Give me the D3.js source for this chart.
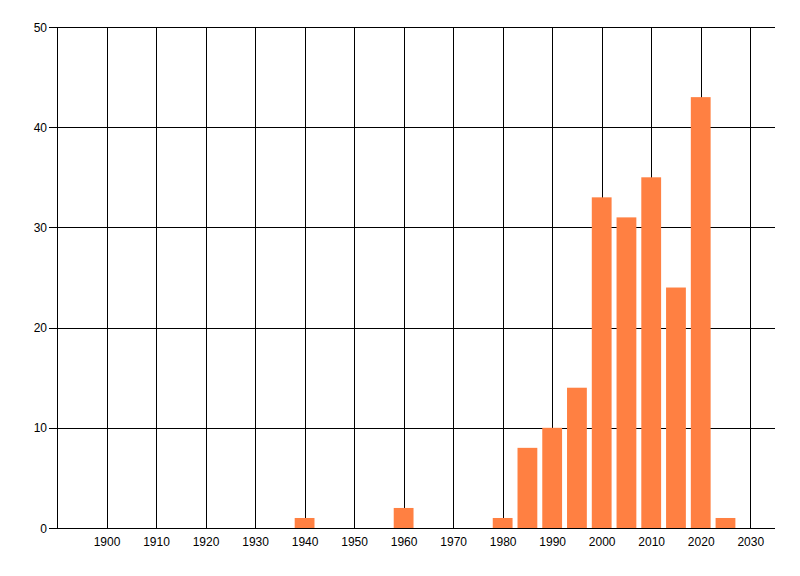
<!DOCTYPE html>
<html><head><meta charset="utf-8">
<script src="https://cdn.jsdelivr.net/npm/d3@7"></script>
<style>
html,body{margin:0;padding:0;background:#fff;}
text{font-family:"Liberation Sans Narrow","Liberation Sans",Arial,sans-serif;font-size:12px;fill:#000;}
</style></head><body>
<svg id="c" width="800" height="576"></svg>
<script>
const years = [1940, 1960, 1980, 1985, 1990, 1995, 2000, 2005, 2010, 2015, 2020, 2025];
const counts = [1, 2, 1, 8, 10, 14, 33, 31, 35, 24, 43, 1];
const xTicks = [1900, 1910, 1920, 1930, 1940, 1950, 1960, 1970, 1980, 1990, 2000, 2010, 2020, 2030];
const yTicks = [0, 10, 20, 30, 40, 50];

(function(){
const svg = d3.select("#c");
const pL = 57, pR = 775, pT = 27, pB = 528;
const x = d3.scaleLinear().domain([1890, 2035]).range([pL, pR]);
const y = d3.scaleLinear().domain([0, 50]).range([pB, pT]);
const barW = x(1894) - x(1890);

svg.append("g").selectAll("line").data(yTicks).join("line")
  .attr("x1", pL - 8).attr("x2", pR)
  .attr("y1", d => Math.round(y(d)) + 0.5).attr("y2", d => Math.round(y(d)) + 0.5)
  .attr("stroke", "#000").attr("stroke-width", 1);
svg.append("g").selectAll("line").data(xTicks).join("line")
  .attr("x1", d => Math.round(x(d)) + 0.5).attr("x2", d => Math.round(x(d)) + 0.5)
  .attr("y1", pT).attr("y2", pB)
  .attr("stroke", "#000").attr("stroke-width", 1);
svg.append("line").attr("x1", pL + 0.5).attr("x2", pL + 0.5)
  .attr("y1", pT).attr("y2", pB + 1).attr("stroke", "#000");

svg.append("g").selectAll("rect").data(years).join("rect")
  .attr("x", (d) => x(d) - barW / 2)
  .attr("width", barW)
  .attr("y", (d, i) => y(counts[i]))
  .attr("height", (d, i) => y(0) - y(counts[i]))
  .attr("fill", "#ff8042");

svg.append("line").attr("x1", pL - 8).attr("x2", pR)
  .attr("y1", Math.round(y(0)) + 0.5).attr("y2", Math.round(y(0)) + 0.5).attr("stroke", "#000");

svg.append("g").selectAll("text").data(yTicks).join("text")
  .attr("x", 47).attr("y", d => y(d) + 4.5)
  .attr("text-anchor", "end").text(d => d);
svg.append("g").selectAll("text").data(xTicks).join("text")
  .attr("x", d => x(d) + 0.5).attr("y", 546)
  .attr("text-anchor", "middle").text(d => d);
})();
</script>
</body></html>
